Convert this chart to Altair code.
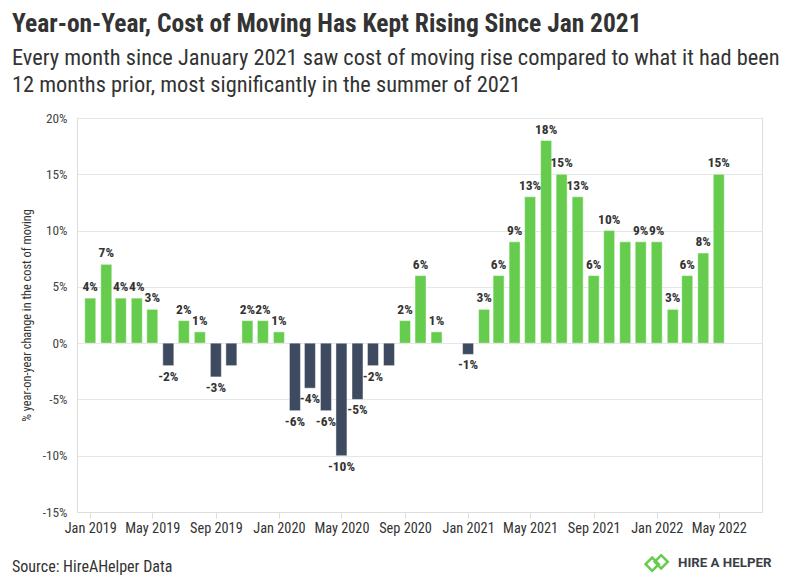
import altair as alt
import pandas as pd

# Monthly year-on-year change in the cost of moving, Jan 2019 - May 2022
months = list(pd.date_range("2019-01-01", periods=41, freq="MS").strftime("%Y-%m-%d"))
yoy_change = [
    4, 7, 4, 4, 3, -2, 2, 1, -3, -2, 2, 2,            # 2019
    1, -6, -4, -6, -10, -5, -2, -2, 2, 6, 1, None,    # 2020
    -1, 3, 6, 9, 13, 18, 15, 13, 6, 10, 9, 9,         # 2021
    9, 3, 6, 8, 15,                                   # 2022
]
# bars whose value label is left off to avoid crowding
unlabeled = ["2019-10-01", "2020-08-01", "2021-11-01"]

y_ticks = [-15, -10, -5, 0, 5, 10, 15, 20]

GREEN = "#66cc4d"
NAVY = "#3d4a5f"
TEXT = "#333333"
COND = "Roboto Condensed, Liberation Sans Narrow, DejaVu Sans Condensed, Roboto, sans-serif"

df = pd.DataFrame({"month": months, "value": yoy_change}).dropna()
df["label"] = df["value"].astype(int).astype(str) + "%"
df["show"] = ~df["month"].isin(unlabeled)

x_enc = alt.X(
    "month:T",
    scale=alt.Scale(
        type="utc",
        domain=[alt.DateTime(year=2018, month=12, date=16, utc=True),
                alt.DateTime(year=2022, month=7, date=14, utc=True)],
    ),
    axis=alt.Axis(
        values=[alt.DateTime(year=int(m[:4]), month=int(m[5:7]), date=1, utc=True) for m in months],
        labelExpr="utcmonth(datum.value) % 4 == 0 ? utcFormat(datum.value, '%b %Y') : ''",
        grid=False,
        domainColor="#dddddd",
        tickColor="#dddddd",
        tickSize=6,
        labelFont=COND,
        labelFontSize=14.3,
        labelColor=TEXT,
        labelPadding=3,
        labelOverlap=False,
        title=None,
    ),
)
y_enc = alt.Y(
    "value:Q",
    scale=alt.Scale(domain=[-15, 20], nice=False),
    axis=alt.Axis(
        values=y_ticks,
        labelExpr="datum.value + '%'",
        grid=True,
        gridColor="#e6e6e6",
        domainColor="#dddddd",
        ticks=False,
        labelPadding=10,
        labelFont=COND,
        labelFontSize=13.3,
        labelColor="#444444",
        title="% year-on-year change in the cost of moving",
        titleFont=COND,
        titleFontSize=12.3,
        titleFontWeight="normal",
        titleColor=TEXT,
        titlePadding=9,
    ),
)

base = alt.Chart(df)

bars = base.mark_bar(width=11, stroke="white", strokeWidth=1, strokeOpacity=0.45).encode(
    x=x_enc,
    y=y_enc,
    color=alt.condition(alt.datum.value >= 0, alt.value(GREEN), alt.value(NAVY)),
)

pos_labels = base.transform_filter("datum.show && datum.value >= 0").mark_text(
    baseline="bottom", dy=-4, font=COND, fontSize=13.5, fontWeight="bold", color=TEXT
).encode(x="month:T", y="value:Q", text="label:N")

neg_labels = base.transform_filter("datum.show && datum.value < 0").mark_text(
    baseline="top", dy=4, font=COND, fontSize=13.5, fontWeight="bold", color=TEXT
).encode(x="month:T", y="value:Q", text="label:N")

source = alt.Chart(pd.DataFrame({"t": ["Source: HireAHelper Data"]})).mark_text(
    align="left", baseline="middle", font=COND, fontSize=16, color=TEXT
).encode(text="t:N", x=alt.value(-65), y=alt.value(449))

brand = alt.Chart(pd.DataFrame({"t": ["HIRE A HELPER"]})).mark_text(
    align="left", baseline="middle", font="Roboto, sans-serif", fontSize=13.3,
    fontWeight="bold", color="#3b3f48"
).encode(text="t:N", x=alt.value(601), y=alt.value(445))

# two interlocking diamond outlines for the brand mark
ICON = ("M -0.95 0.1 L -0.4 -0.45 L 0.15 0.1 L -0.4 0.65 Z "
        "M -0.2 -0.1 L 0.35 -0.65 L 0.9 -0.1 L 0.35 0.45 Z")
brand_icon = alt.Chart(pd.DataFrame({"t": [1]})).mark_point(
    shape=ICON, filled=False, stroke=GREEN, strokeWidth=2.5, size=576, opacity=1
).encode(x=alt.value(580), y=alt.value(445))

chart = alt.layer(bars, pos_labels, neg_labels, source, brand, brand_icon).properties(
    width=685,
    height=394,
    padding={"left": 77, "top": 118, "right": 34, "bottom": 63},
    autosize=alt.AutoSizeParams(type="none"),
    title=alt.TitleParams(
        text="Year-on-Year, Cost of Moving Has Kept Rising Since Jan 2021",
        subtitle=[
            "Every month since January 2021 saw cost of moving rise compared to what it had been",
            "12 months prior, most significantly in the summer of 2021",
        ],
        anchor="start",
        frame="group",
        dx=-65,
        offset=14.5,
        font=COND,
        fontSize=25.5,
        fontWeight="bold",
        color=TEXT,
        subtitleFont=COND,
        subtitleFontSize=22.4,
        subtitleColor=TEXT,
        subtitleLineHeight=27,
        subtitlePadding=9.5,
    ),
).configure_view(stroke=None).configure(background="white")

chart.save("out.html", embed_options={"renderer": "svg", "actions": False})
